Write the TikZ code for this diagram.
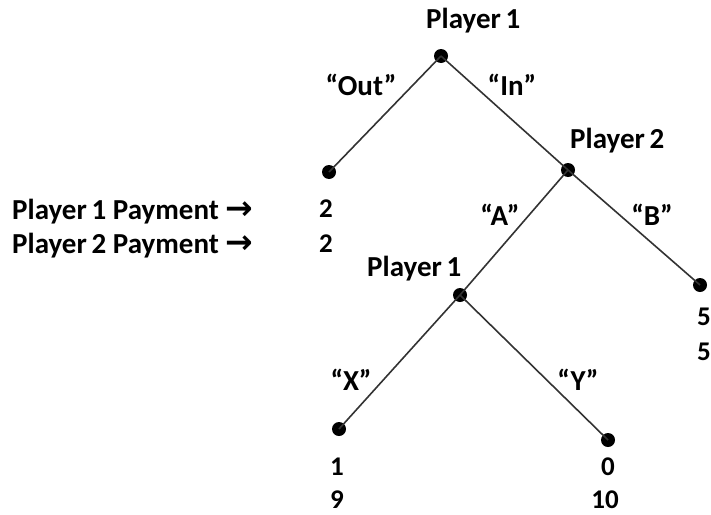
\documentclass[tikz,border=0pt]{standalone}
\usepackage{fontspec}
\setmainfont{Carlito}
\newfontfamily\arrowfont{DejaVu Sans}
\begin{document}
\begin{tikzpicture}[x=1pt,y=-1pt,
  dot/.style={circle,fill=black,inner sep=0pt,minimum size=14pt},
  edge/.style={draw=black!80,line width=1.6pt},
  lbl/.style={inner sep=0pt,font=\fontsize{29}{32}\selectfont\bfseries},
  num/.style={inner sep=0pt,anchor=base,font=\fontsize{27}{32}\selectfont\bfseries}]
\useasboundingbox (0,0) rectangle (711,514);
% decision nodes
\node[dot] (r) at (441,56) {};
\node[dot] (o) at (329,172) {};
\node[dot] (p2) at (568,170) {};
\node[dot] (b) at (700,285) {};
\node[dot] (p1) at (460,295) {};
\node[dot] (x) at (339,429) {};
\node[dot] (y) at (608,440) {};
% edges
\draw[edge] (r.center) -- (o.center);
\draw[edge] (r.center) -- (p2.center);
\draw[edge] (p2.center) -- (b.center);
\draw[edge] (p2.center) -- (p1.center);
\draw[edge] (p1.center) -- (x.center);
\draw[edge] (p1.center) -- (y.center);
% player labels
\node[lbl,anchor=base west] (t1) at (426,28) {Player\,1};
\node[lbl,anchor=base west] (t2) at (570,148) {Player\,2};
\node[lbl,anchor=base west] (t3) at (367,276) {Player\,1};
% action labels
\node[lbl,anchor=base] (aout) at (361,95) {“Out”};
\node[lbl,anchor=base] (ain) at (512,95) {“In”};
\node[lbl,anchor=base] (aa) at (500,225) {“A”};
\node[lbl,anchor=base] (ab) at (652,225) {“B”};
\node[lbl,anchor=base] (ax) at (351,390) {“X”};
\node[lbl,anchor=base] (ay) at (578,390) {“Y”};
% payoffs
\node[num] (o1) at (326,217) {2};
\node[num] (o2) at (326,252) {2};
\node[num] (b1) at (704,325) {5};
\node[num] (b2) at (704,360) {5};
\node[num] (x1) at (337,475) {1};
\node[num] (x2) at (337,508) {9};
\node[num] (y1) at (608,475) {0};
\node[num] (y2) at (605,508) {10};
% legend
\node[lbl,anchor=base west] (l1) at (12,219) {Player\,1 Payment {\fontsize{33}{32}\arrowfont\bfseries →}};
\node[lbl,anchor=base west] (l2) at (12,253) {Player\,2 Payment {\fontsize{33}{32}\arrowfont\bfseries →}};
\end{tikzpicture}
\end{document}
